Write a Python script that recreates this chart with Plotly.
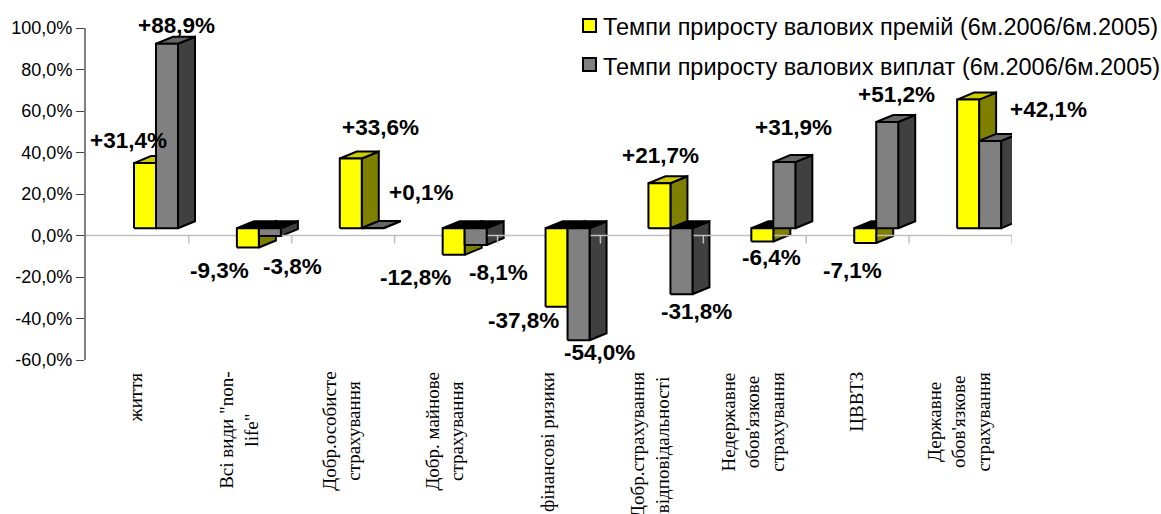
import plotly.graph_objects as go

# ---------- data ----------
categories = ["життя", "Всі види \"non-<br>life\"", "Добр.особисте<br>страхування",
              "Добр. майнове<br>страхування", "фінансові ризики",
              "Добр.страхування<br>відповідальності",
              "Недержавне<br>обов'язкове<br>страхування", "ЦВВТЗ",
              "Державне<br>обов'язкове<br>страхування"]
premiums = [31.4, -9.3, 33.6, -12.8, -37.8, 21.7, -6.4, -7.1, 62.0]
payouts = [88.9, -3.8, 0.1, -8.1, -54.0, -31.8, 31.9, 51.2, 42.1]
premium_labels = ["+31,4%", "-9,3%", "+33,6%", "-12,8%", "-37,8%", "+21,7%", "-6,4%", "-7,1%", None]
payout_labels = ["+88,9%", "-3,8%", "+0,1%", "-8,1%", "-54,0%", "-31,8%", "+31,9%", "+51,2%", "+42,1%"]
y_ticks = [100, 80, 60, 40, 20, 0, -20, -40, -60]
y_tick_labels = ["100,0%", "80,0%", "60,0%", "40,0%", "20,0%", "0,0%", "-20,0%", "-40,0%", "-60,0%"]
series_names = ["Темпи приросту валових премій (6м.2006/6м.2005)",
                "Темпи приросту валових виплат (6м.2006/6м.2005)"]
series_colors = ["#FFFF00", "#808080"]

# ---------- layout constants ----------
W, H = 1161, 514
L, R, T, B = 86, 1012, 28, 360
BASE = 3.5          # front zero level, in value units
DX, DY = 17 / ((R - L) / 9), 7 / ((B - T) / 160)
BAR_W = 22 / ((R - L) / 9)
START = 48 / ((R - L) / 9)
premium_label_px = [(128, 140), (219, 270), (380, 128), (415, 277), (523, 320),
                    (660, 155), (771, 257), (852, 270), None]
payout_label_px = [(176, 25), (292, 266), (421, 192), (498, 272), (599, 352),
                   (696, 311), (793, 128), (896, 94), (1048, 110)]
swatch_px = [(583, 19), (583, 58)]


def poly(points):
    xs, ys = zip(*points)
    return list(xs) + [xs[0], None], list(ys) + [ys[0], None]


def faces(values, slot):
    front, side, top_pos, top_neg = [[[], []] for _ in range(4)]
    for i, v in enumerate(values):
        x0 = i + START + slot * BAR_W
        x1 = x0 + BAR_W
        y0, y1 = BASE, BASE + v
        hi = max(y0, y1)
        lo = min(y0, y1)
        shapes = [(front, [(x0, lo), (x1, lo), (x1, hi), (x0, hi)]),
                  (side, [(x1, lo), (x1 + DX, lo + DY), (x1 + DX, hi + DY), (x1, hi)]),
                  (top_pos if v >= 0 else top_neg,
                   [(x0, hi), (x0 + DX, hi + DY), (x1 + DX, hi + DY), (x1, hi)])]
        for target, pts in shapes:
            xs, ys = poly(pts)
            target[0] += xs
            target[1] += ys
    return front, side, top_pos, top_neg


def face_trace(xy, color):
    return go.Scatter(x=xy[0], y=xy[1], mode="lines", fill="toself", fillcolor=color,
                      line=dict(color="#000000", width=2), showlegend=False, hoverinfo="skip")


yf, ys, ytp, ytn = faces(premiums, 0)
gf, gs, gtp, gtn = faces(payouts, 1)

axis_x, axis_y = [0, 9, None], [0, 0, None]
for i in range(1, 10):
    axis_x += [i, i, None]
    axis_y += [0, -8 / ((B - T) / 160), None]

fig = go.Figure()
fig.add_trace(face_trace(ys, "#808000"))
fig.add_trace(face_trace(ytp, "#CCCC00"))
fig.add_trace(face_trace(ytn, "#000000"))
fig.add_trace(face_trace(gs, "#404040"))
fig.add_trace(face_trace(gtp, "#666666"))
fig.add_trace(face_trace(gtn, "#000000"))
fig.add_trace(go.Scatter(x=axis_x, y=axis_y, mode="lines", line=dict(color="#C0C0C0", width=1.5),
                         showlegend=False, hoverinfo="skip"))
fig.add_trace(face_trace(yf, series_colors[0]))
fig.add_trace(face_trace(gf, series_colors[1]))

# Legend entries carry the text; their swatches sit closer to the text than
# Plotly's minimum item width allows, so they are drawn as paper-space shapes.
for name in series_names:
    fig.add_trace(go.Scatter(x=[None], y=[None], mode="markers", name=name, legendgroup=name,
                             marker=dict(symbol="square", size=12, color="rgba(0,0,0,0)")))

shapes = []
for (sx, sy), color in zip(swatch_px, series_colors):
    shapes.append(dict(type="rect", xref="paper", yref="paper",
                       x0=(sx - L) / (R - L), x1=(sx + 13 - L) / (R - L),
                       y0=(B - sy) / (B - T), y1=(B - sy - 13) / (B - T),
                       fillcolor=color, line=dict(color="#000000", width=2)))

annotations = []
for labels, pos in ((premium_labels, premium_label_px), (payout_labels, payout_label_px)):
    for text, p in zip(labels, pos):
        if text is None:
            continue
        annotations.append(dict(text=f"<b>{text}</b>", xref="paper", yref="paper",
                                x=(p[0] - L) / (R - L), y=(B - p[1]) / (B - T),
                                xanchor="center", yanchor="middle", showarrow=False,
                                font=dict(family="Liberation Sans", size=22.5, color="#000000")))
for i, cat in enumerate(categories):
    annotations.append(dict(text=cat, xref="x", yref="paper",
                            x=i + 0.5, y=(B - 370) / (B - T), xanchor="center", yanchor="top",
                            xshift=-2, textangle=-90, align="center", showarrow=False,
                            font=dict(family="Liberation Serif", size=19, color="#000000")))

fig.update_layout(
    width=W, height=H, autosize=False,
    margin=dict(l=L, r=W - R, t=T, b=H - B, pad=0, autoexpand=False),
    paper_bgcolor="#FFFFFF", plot_bgcolor="#FFFFFF",
    xaxis=dict(range=[0, 9], visible=False),
    yaxis=dict(range=[-60, 100], tickvals=y_ticks, ticktext=y_tick_labels, ticks="outside",
               ticklen=8, tickwidth=1, tickcolor="#404040", showgrid=False, zeroline=False,
               showline=True, linecolor="#808080", linewidth=2,
               tickfont=dict(family="Liberation Sans", size=18, color="#000000")),
    legend=dict(x=(563 - L) / (R - L), y=(B - 4) / (B - T), xanchor="left", yanchor="top",
                traceorder="grouped", tracegroupgap=7, bgcolor="rgba(0,0,0,0)",
                font=dict(family="Liberation Sans", size=23.5, color="#000000")),
    annotations=annotations,
    shapes=shapes,
    showlegend=True,
)
fig.write_html("out.html", config={"displayModeBar": False},
               post_script="document.body.style.margin='0';document.documentElement.style.overflow='hidden';")
